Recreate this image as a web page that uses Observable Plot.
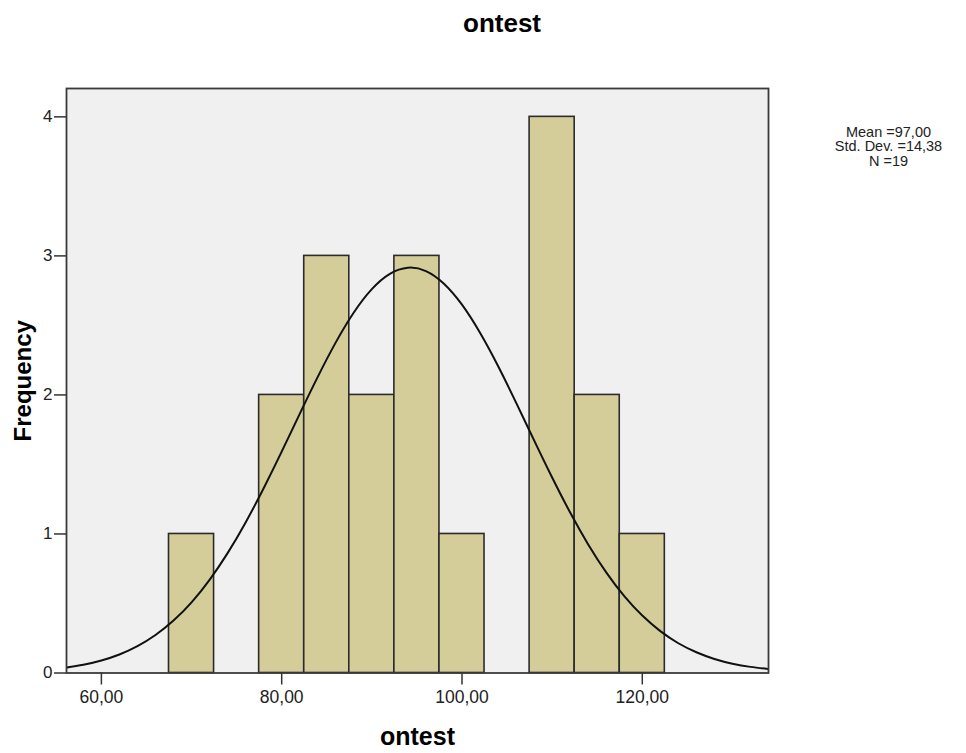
<!DOCTYPE html>
<html>
<head>
<meta charset="utf-8">
<script src="https://cdn.jsdelivr.net/npm/d3@7"></script>
<script src="https://cdn.jsdelivr.net/npm/@observablehq/plot@0.6"></script>
<style>
  html, body { margin: 0; padding: 0; background: #ffffff; }
  #wrap { position: relative; width: 966px; }
  #title { position: relative; height: 50px; width: 966px; }
  #title span { position: absolute; top: 10px; left: 502px; transform: translateX(-50%);
    font-family: "Liberation Sans", Arial, sans-serif; font-weight: bold; font-size: 26px; line-height: 26px; color: #000; white-space: nowrap; }
  svg { display: block; }
</style>
</head>
<body>
<div id="wrap">
  <div id="title"><span>ontest</span></div>
  <div id="chart"></div>
</div>
<script>
// ---- data ----
const titleText = "ontest";
const xLabel = "ontest";
const yLabel = "Frequency";

// histogram bins (lower / upper edges) and frequencies
const binLow  = [67.5, 77.5, 82.5, 87.5, 92.5, 97.5, 107.5, 112.5, 117.5];
const binHigh = [72.5, 82.5, 87.5, 92.5, 97.5, 102.5, 112.5, 117.5, 122.5];
const counts  = [1, 2, 3, 2, 3, 1, 4, 2, 1];

// normal curve, points
const curveX = [56, 58, 60, 62, 64, 66, 68, 70, 72, 74, 76, 78, 80, 82, 84, 86, 88, 90, 92, 94,
                96, 98, 100, 102, 104, 106, 108, 110, 112, 114, 116, 118, 120, 122, 124, 126, 128, 130, 132, 134];
const curveY = [0.038, 0.059, 0.090, 0.133, 0.193, 0.273, 0.377, 0.508, 0.670, 0.862, 1.083, 1.329, 1.592, 1.864, 2.130, 2.378, 2.593, 2.761, 2.871, 2.915,
                2.891, 2.800, 2.649, 2.447, 2.208, 1.945, 1.673, 1.406, 1.154, 0.925, 0.724, 0.553, 0.413, 0.301, 0.214, 0.149, 0.101, 0.067, 0.044, 0.028];

// axes
const xTicks = [60, 80, 100, 120];
const xTickLabels = ["60,00", "80,00", "100,00", "120,00"];
const yTicks = [0, 1, 2, 3, 4];
const yTickLabels = ["0", "1", "2", "3", "4"];
const xDomain = [56.13, 134];
const yDomain = [0, 4.204];

// statistics box
const statsLines = ["Mean =97,00", "Std. Dev. =14,38", "N =19"];

// ---- build tables ----
const bars = binLow.map((lo, i) => ({lo, hi: binHigh[i], n: counts[i]}));
const curve = curveX.map((x, i) => ({x, y: curveY[i]}));

const font = "Liberation Sans, Arial, sans-serif";

const chart = Plot.plot({
  width: 966,
  height: 703,
  marginTop: 38,
  marginBottom: 80.5,
  marginLeft: 66,
  marginRight: 198,
  style: {fontFamily: font, fontSize: "17px", color: "#222", background: "#ffffff"},
  x: {domain: xDomain, label: null},
  y: {domain: yDomain, label: null},
  marks: [
    Plot.frame({fill: "#f0f0f0", stroke: "none"}),
    Plot.rectY(bars, {x1: "lo", x2: "hi", y: "n", fill: "#d4cd9a", stroke: "#2b2b2b", strokeWidth: 1.6}),
    Plot.line(curve, {x: "x", y: "y", stroke: "#111", strokeWidth: 2, curve: "natural", clip: true}),
    Plot.frame({stroke: "#3a3a3a", strokeWidth: 1.8}),
    Plot.axisY({ticks: yTicks, tickFormat: (d) => yTickLabels[yTicks.indexOf(d)], tickSize: 12, tickPadding: 2, stroke: "#333", strokeWidth: 1.5, fontSize: 17, label: null}),
    Plot.axisX({ticks: xTicks, tickFormat: (d) => xTickLabels[xTicks.indexOf(d)], tickSize: 12, tickPadding: 6, stroke: "#333", strokeWidth: 1.5, fontSize: 17.5, label: null}),
    Plot.text([xLabel], {frameAnchor: "bottom", text: d => d, lineAnchor: "middle", dy: 63.5, fontSize: 25, fontWeight: "bold", fill: "#000"}),
    Plot.text([yLabel], {frameAnchor: "left", text: d => d, rotate: -90, textAnchor: "middle", lineAnchor: "middle", dx: -43, fontSize: 24, fontWeight: "bold", fill: "#000"}),
    Plot.text([statsLines.join("\n")], {frameAnchor: "top-right", text: d => d, textAnchor: "middle", lineAnchor: "top", lineHeight: 1.0, dx: 120, dy: 38, fontSize: 14.5, fill: "#222"})
  ]
});
document.getElementById("chart").appendChild(chart);
</script>
</body>
</html>
